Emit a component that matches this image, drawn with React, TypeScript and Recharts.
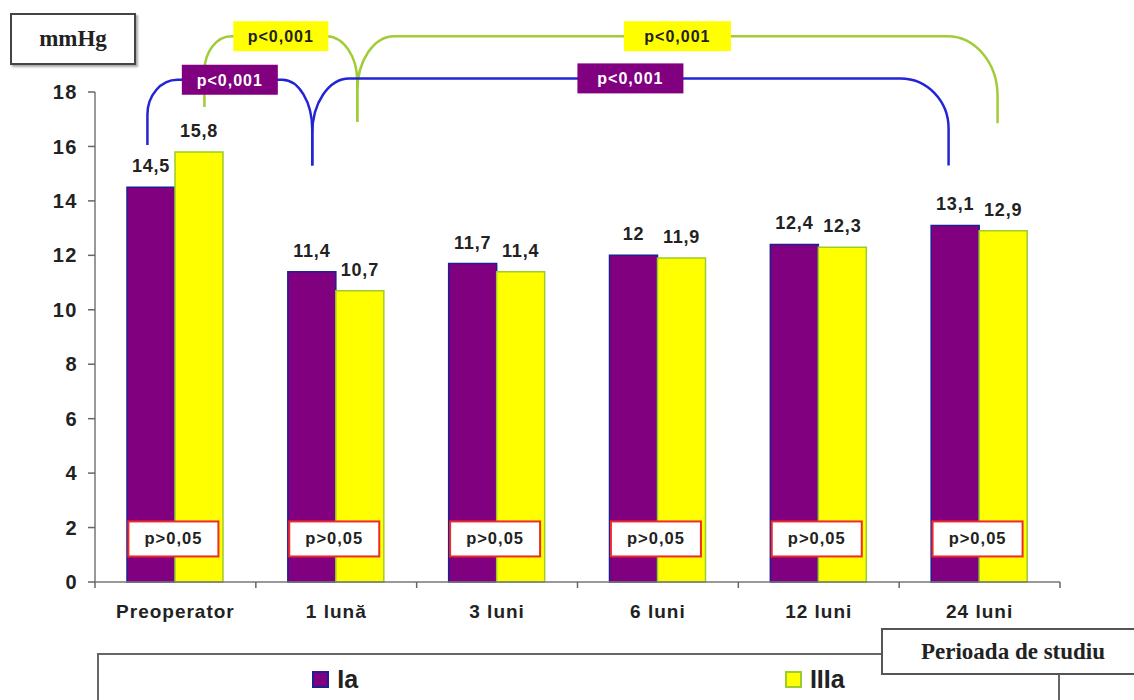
import React from "react";
import {
  BarChart,
  Bar,
  XAxis,
  YAxis,
  LabelList,
  ReferenceArea,
  ReferenceDot,
} from "recharts";

const CATEGORIES = ["Preoperator", "1 lună", "3 luni", "6 luni", "12 luni", "24 luni"];
const IA = [14.5, 11.4, 11.7, 12, 12.4, 13.1];
const IIIA = [15.8, 10.7, 11.4, 11.9, 12.3, 12.9];
const PAIR_P = ["p>0,05", "p>0,05", "p>0,05", "p>0,05", "p>0,05", "p>0,05"];
const Y_TICKS = [0, 2, 4, 6, 8, 10, 12, 14, 16, 18];

const SERIES = [
  { key: "ia", name: "Ia", fill: "#800080", stroke: "#1f1f8f" },
  { key: "iiia", name: "IIIa", fill: "#ffff00", stroke: "#9ccc2e" },
];

// comparisons over time (within a group), drawn as brackets above the bars
// green ones first so the purple label box sits on top of the green line
const BRACKETS = [
  { from: 0, to: 1, series: 1, level: 20.05, footFrom: 17.45, footTo: 16.9, label: "p<0,001", color: "#a2cc36", box: "#ffff00", text: "#222222", w: 95, dxL: 5, dxR: -3, rl: [27, 35], rr: [31, 45] },
  { from: 1, to: 5, series: 1, level: 20.05, footFrom: 16.9, footTo: 16.85, label: "p<0,001", color: "#a2cc36", box: "#ffff00", text: "#222222", w: 107, dxL: -3, dxR: -6, rl: [37, 55], rr: [50, 60] },
  { from: 0, to: 1, series: 0, level: 18.45, footFrom: 16.05, footTo: 15.3, label: "p<0,001", color: "#2424d6", box: "#800080", text: "#ffffff", w: 96, dxL: -4, dxR: 0, rl: [30, 35], rr: [30, 50] },
  { from: 1, to: 5, series: 0, level: 18.5, footFrom: 15.3, footTo: 15.3, label: "p<0,001", color: "#2424d6", box: "#800080", text: "#ffffff", w: 106, dxL: 0, dxR: -7, rl: [37, 55], rr: [48, 50] },
];

const data = CATEGORIES.map((c, i) => ({ cat: c, ia: IA[i], iiia: IIIA[i] }));

const BAR = 48;
const FONT = "'Liberation Sans', Arial, sans-serif";
const SERIF = "'Liberation Serif', 'Times New Roman', serif";
const fmt = (v: any) => String(v).replace(".", ",");

const K = 0.552;

function bracketShape(b: any) {
  return (props: any) => {
    const { x, y, width, height } = props;
    const n = b.to - b.from + 1;
    const band = width / n;
    const off = (b.series === 0 ? -1 : 1) * (BAR / 2);
    const xL = x + band / 2 + off + b.dxL;
    const xR = x + width - band / 2 + off + b.dxR;
    const minFoot = Math.min(b.footFrom, b.footTo);
    const ppu = height / (b.level - minFoot);
    const yLev = y;
    const yFL = y + (b.level - b.footFrom) * ppu;
    const yFR = y + (b.level - b.footTo) * ppu;
    const [rxl, ryl] = b.rl;
    const [rxr, ryr] = b.rr;
    const d =
      `M${xL},${yFL} L${xL},${yLev + ryl} ` +
      `C${xL},${yLev + ryl * (1 - K)} ${xL + rxl * (1 - K)},${yLev} ${xL + rxl},${yLev} ` +
      `L${xR - rxr},${yLev} ` +
      `C${xR - rxr * (1 - K)},${yLev} ${xR},${yLev + ryr * (1 - K)} ${xR},${yLev + ryr} ` +
      `L${xR},${yFR}`;
    const cx = (xL + xR) / 2;
    return (
      <g>
        <path d={d} fill="none" stroke={b.color} strokeWidth={2.5} />
        <rect x={cx - b.w / 2} y={yLev - 15} width={b.w} height={30} fill={b.box} />
        <text
          x={cx}
          y={yLev + 6}
          textAnchor="middle"
          fontFamily={FONT}
          fontWeight="bold"
          fontSize={16}
          letterSpacing={1}
          fill={b.text}
        >
          {b.label}
        </text>
      </g>
    );
  };
}

const pBox = (label: string) => (props: any) => {
  const { cx, cy } = props;
  return (
    <g>
      <rect x={cx - 47} y={cy - 17} width={90} height={35} fill="#ffffff" stroke="#ee2a2a" strokeWidth={2} />
      <text
        x={cx - 2}
        y={cy + 6}
        textAnchor="middle"
        fontFamily={FONT}
        fontSize={16.5}
        letterSpacing={1}
        fontWeight="bold"
        fill="#222"
      >
        {label}
      </text>
    </g>
  );
};

const XTick = (props: any) => {
  const { x, y, payload, index } = props;
  const band = (1134 - 95 - 74) / CATEGORIES.length;
  const axisY = y - 2;
  const i = index ?? payload.index;
  return (
    <g>
      <line x1={x - band / 2} x2={x - band / 2} y1={axisY} y2={axisY + 6} stroke="#666" strokeWidth={1.5} />
      {i === CATEGORIES.length - 1 && (
        <line x1={x + band / 2} x2={x + band / 2} y1={axisY} y2={axisY + 6} stroke="#666" strokeWidth={1.5} />
      )}
      <text
        x={x}
        y={axisY + 36}
        textAnchor="middle"
        fontFamily={FONT}
        fontWeight="bold"
        fontSize={19}
        letterSpacing={1}
        fill="#222"
      >
        {payload.value}
      </text>
    </g>
  );
};

export default function App() {
  return (
    <div style={{ position: "absolute", left: 0, top: 0, width: 1134, height: 700, background: "#fff", overflow: "hidden" }}>
      <BarChart
        width={1134}
        height={700}
        data={data}
        margin={{ top: 92, right: 74, left: 40, bottom: 88 }}
        barGap={0}
      >
        <XAxis
          dataKey="cat"
          height={30}
          tickLine={false}
          tickSize={0}
          tickMargin={2}
          interval={0}
          axisLine={{ stroke: "#777", strokeWidth: 1.5 }}
          tick={<XTick />}
        />
        <YAxis
          width={55}
          domain={[0, 18]}
          ticks={Y_TICKS}
          interval={0}
          tickSize={7}
          tickMargin={10}
          axisLine={{ stroke: "#777", strokeWidth: 1.5 }}
          tickLine={{ stroke: "#666", strokeWidth: 1.5 }}
          tick={{ fill: "#222", fontSize: 20, fontWeight: "bold", fontFamily: FONT, letterSpacing: 1.5 }}
        />
        {SERIES.map((s) => (
          <Bar
            key={s.key}
            dataKey={s.key}
            name={s.name}
            fill={s.fill}
            stroke={s.stroke}
            strokeWidth={1.5}
            barSize={BAR}
            isAnimationActive={false}
          >
            <LabelList
              dataKey={s.key}
              position="top"
              offset={15}
              formatter={fmt}
              style={{ fill: "#222", fontSize: 18, fontWeight: "bold", fontFamily: FONT, letterSpacing: 0.8 }}
            />
          </Bar>
        ))}
        {CATEGORIES.map((c, i) => (
          <ReferenceDot key={"p" + i} x={c} y={1.6} r={0} shape={pBox(PAIR_P[i])} />
        ))}
        {BRACKETS.map((b, i) => (
          <ReferenceArea
            key={"b" + i}
            x1={CATEGORIES[b.from]}
            x2={CATEGORIES[b.to]}
            y1={b.level}
            y2={Math.min(b.footFrom, b.footTo)}
            ifOverflow="visible"
            shape={bracketShape(b)}
          />
        ))}
      </BarChart>

      {/* unit box */}
      <div
        style={{
          position: "absolute",
          left: 10,
          top: 13,
          width: 122,
          height: 48,
          border: "2px solid #444",
          boxShadow: "2px 2px 2px #aaa",
          background: "#fff",
          display: "flex",
          alignItems: "center",
          justifyContent: "center",
          fontFamily: SERIF,
          fontWeight: "bold",
          fontSize: 23,
          color: "#222",
        }}
      >
        mmHg
      </div>

      {/* legend */}
      <div
        style={{
          position: "absolute",
          left: 97,
          top: 653,
          width: 963,
          height: 80,
          border: "2px solid #666",
          background: "#fff",
          display: "flex",
          justifyContent: "space-around",
          alignItems: "flex-start",
          paddingTop: 10,
          boxSizing: "border-box",
        }}
      >
        {SERIES.map((s) => (
          <div key={s.key} style={{ display: "flex", alignItems: "center", gap: 8 }}>
            <span
              style={{
                display: "inline-block",
                width: 13,
                height: 13,
                background: s.fill,
                border: `2px solid ${s.stroke}`,
              }}
            />
            <span style={{ fontFamily: FONT, fontWeight: "bold", fontSize: 25, color: "#222" }}>{s.name}</span>
          </div>
        ))}
      </div>

      {/* axis title box */}
      <div
        style={{
          position: "absolute",
          left: 881,
          top: 628,
          width: 260,
          height: 43,
          border: "2px solid #555",
          background: "#fff",
          display: "flex",
          alignItems: "center",
          justifyContent: "center",
          fontFamily: SERIF,
          fontWeight: "bold",
          fontSize: 23,
          color: "#222",
        }}
      >
        Perioada de studiu
      </div>
    </div>
  );
}
